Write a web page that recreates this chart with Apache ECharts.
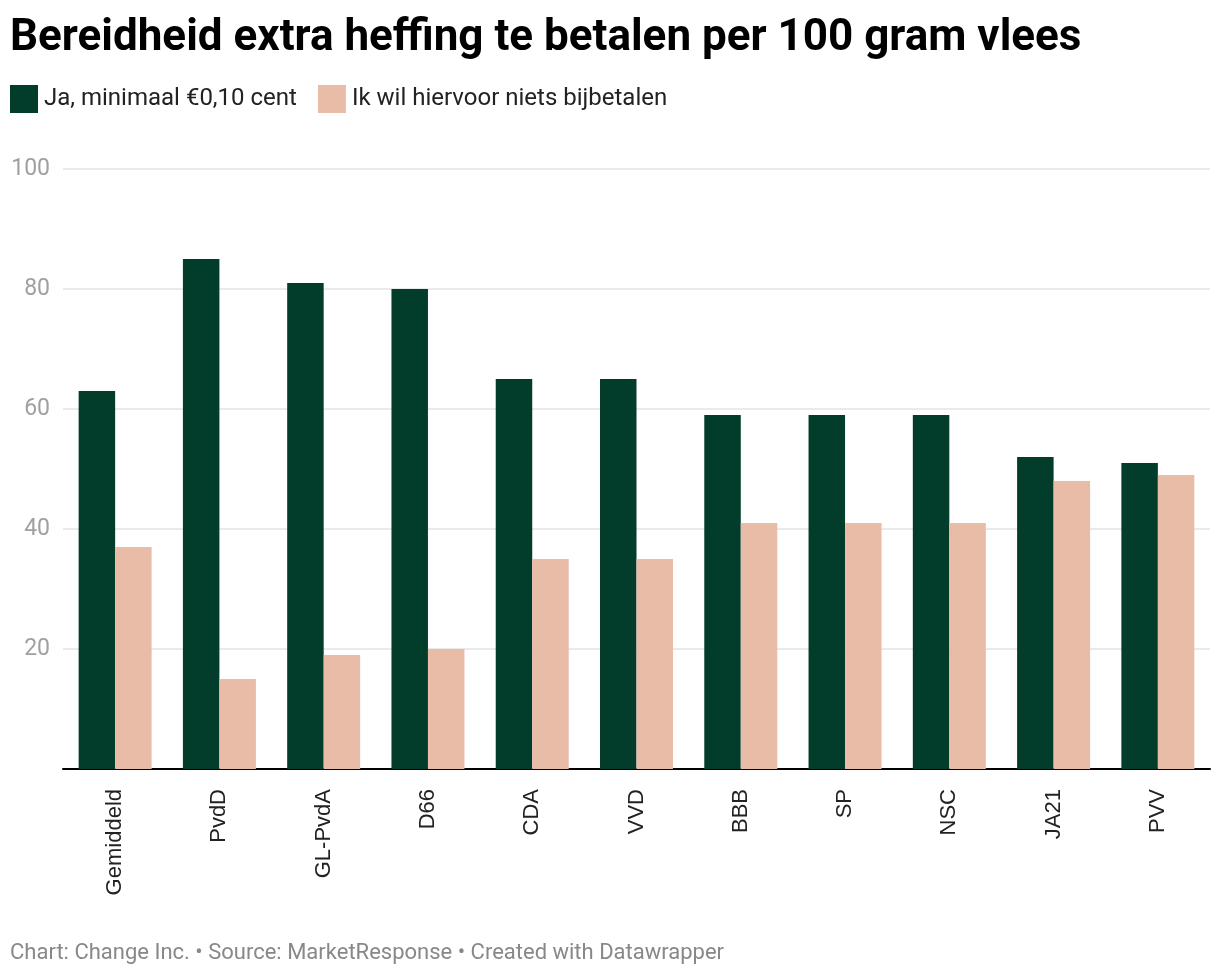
<!DOCTYPE html>
<html><head><meta charset="utf-8">
<script src="https://cdn.jsdelivr.net/npm/echarts@6/dist/echarts.min.js"></script>
<style>html,body{margin:0;padding:0;background:#fff}#c{width:1220px;height:978px}</style>
</head><body><div id="c"></div>
<script>
const categories = ["Gemiddeld","PvdD","GL-PvdA","D66","CDA","VVD","BBB","SP","NSC","JA21","PVV"];
const seriesNames = ["Ja, minimaal €0,10 cent","Ik wil hiervoor niets bijbetalen"];
const jaValues = [63,85,81,80,65,65,59,59,59,52,51];
const neeValues = [37,15,19,20,35,35,41,41,41,48,49];
const yTicks = [0,20,40,60,80,100];

const chart = echarts.init(document.getElementById('c'), null, {renderer:'canvas'});
chart.setOption({
  animation:false,
  backgroundColor:'#fff',
  title:{
    text:'Bereidheid extra heffing te betalen per 100 gram vlees',
    left:5, top:12,
    textStyle:{fontFamily:'Roboto', fontWeight:'bold', fontSize:44, color:'#000'}
  },
  legend:{
    left:5, top:80, icon:'rect', itemWidth:28, itemHeight:28, itemGap:21,
    textStyle:{fontFamily:'Roboto', fontSize:24, color:'#222', padding:[0,0,0,1]},
    data:seriesNames
  },
  grid:{left:63, right:10, top:169, bottom:209, containLabel:false},
  xAxis:{
    type:'category', data:categories,
    axisLine:{lineStyle:{color:'#000', width:2}},
    axisTick:{show:false},
    axisLabel:{rotate:90, fontFamily:'Liberation Sans', fontSize:22, color:'#222', margin:20, interval:0}
  },
  yAxis:{
    type:'value', min:yTicks[0], max:yTicks[yTicks.length-1], interval:20,
    axisLine:{show:false}, axisTick:{show:false},
    splitLine:{lineStyle:{color:'#e3e3e3', width:1.5}},
    axisLabel:{fontFamily:'Roboto', fontSize:23, color:'#a0a0a0', margin:13,
      formatter:v=> v===0 ? '' : String(v)}
  },
  series:[
    {name:seriesNames[0], type:'bar', data:jaValues, barGap:'0%', barCategoryGap:'30%',
     itemStyle:{color:'#023d2b'}},
    {name:seriesNames[1], type:'bar', data:neeValues, barGap:'0%', barCategoryGap:'30%',
     itemStyle:{color:'#e8bca7'}}
  ],
  graphic:[{
    type:'text', left:10, top:942,
    style:{text:'Chart: Change Inc. • Source: MarketResponse • Created with Datawrapper',
      font:'22px Roboto', fill:'#888'}
  }]
});
</script></body></html>
